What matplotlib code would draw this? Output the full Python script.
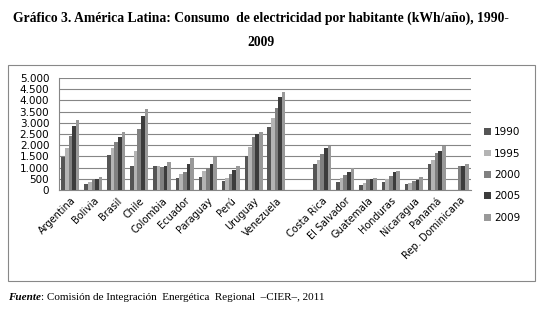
import numpy as np
import matplotlib
matplotlib.use("Agg")
import matplotlib.pyplot as plt
from matplotlib.patches import Rectangle

# data (kWh/año por habitante); "" is the empty gap slot
countries = ["Argentina", "Bolivia", "Brasil", "Chile", "Colombia", "Ecuador",
             "Paraguay", "Perú", "Uruguay", "Venezuela", "",
             "Costa Rica", "El Salvador", "Guatemala", "Honduras", "Nicaragua",
             "Panamá", "Rep. Dominicana"]
years = ["1990", "1995", "2000", "2005", "2009"]
nan = np.nan
v1990 = [1480, 270, 1550, 1050, 1050, 550, 590, 410, 1500, 2820, nan,
         1180, 360, 230, 360, 270, 1140, nan]
v1995 = [1860, 360, 1860, 1740, 1050, 730, 860, 550, 1910, 3230, nan,
         1360, 550, 320, 500, 320, 1320, nan]
v2000 = [2410, 500, 2150, 2730, 1020, 820, 1000, 730, 2360, 3680, nan,
         1590, 680, 500, 640, 410, 1640, 1090]
v2005 = [2860, 500, 2360, 3320, 1050, 1140, 1180, 910, 2500, 4140, nan,
         1860, 820, 500, 820, 450, 1730, 1050]
v2009 = [3140, 590, 2600, 3600, 1230, 1410, 1480, 1090, 2590, 4360, nan,
         1980, 970, 550, 860, 590, 1980, 1140]
series = [v1990, v1995, v2000, v2005, v2009]
colors = ["#555555", "#b4b4b4", "#808080", "#3c3c3c", "#999999"]

fig = plt.figure(figsize=(5.43, 3.13), dpi=100)

# outer chart frame
fig.patches.append(Rectangle((8 / 543, 1 - 281 / 313), 527 / 543, 216 / 313,
                             transform=fig.transFigure, fill=False,
                             edgecolor="#888888", linewidth=0.8))

ax = fig.add_axes([59 / 543, 1 - 190 / 313, 412 / 543, 112 / 313])
x = np.arange(len(countries))
w = 0.157
for i, (vals, c, y) in enumerate(zip(series, colors, years)):
    ax.bar(x + (i - 2) * w, vals, width=w, color=c, label=y, zorder=3)

ax.set_xlim(-0.5, len(countries) - 0.5)
ax.set_ylim(0, 5000)
ax.set_yticks(np.arange(0, 5001, 500))
ax.set_yticklabels([f"{t:,}".replace(",", ".") for t in range(0, 5001, 500)],
                   fontsize=7.5)
ax.yaxis.grid(True, color="#868686", linewidth=0.8, zorder=0)
ax.set_xticks(x)
ax.set_xticklabels(countries, rotation=45, ha="right", rotation_mode="anchor",
                   fontsize=7)
ax.tick_params(axis="x", length=0, pad=4)
ax.tick_params(axis="y", length=0, pad=7)
for s in ["top", "right"]:
    ax.spines[s].set_visible(False)
for s in ["left", "bottom"]:
    ax.spines[s].set_color("#868686")
    ax.spines[s].set_linewidth(0.8)

ax.legend(loc="center left", bbox_to_anchor=(1.01, 0.134), frameon=False,
          fontsize=7.5, handlelength=0.6, handleheight=0.6, labelspacing=1.1,
          handletextpad=0.3)

fig.text(261 / 543, 1 - 18 / 313,
         "Gráfico 3. América Latina: Consumo  de electricidad por habitante (kWh/año), 1990-",
         ha="center", va="center", fontsize=9.8, fontweight="bold",
         family="Liberation Serif")
fig.text(261 / 543, 1 - 42 / 313, "2009", ha="center", va="center",
         fontsize=9.8, fontweight="bold", family="Liberation Serif")
t = fig.text(8 / 543, 1 - 298 / 313, "Fuente", ha="left", va="center",
             fontsize=8, fontweight="bold", fontstyle="italic",
             family="Liberation Serif")
fig.canvas.draw()
bb = t.get_window_extent()
fig.text(bb.x1 / fig.bbox.width, 1 - 298 / 313,
         ": Comisión de Integración  Energética  Regional  \u2013CIER\u2013, 2011",
         ha="left", va="center", fontsize=8, family="Liberation Serif")

fig.savefig("out.png", dpi=100)
